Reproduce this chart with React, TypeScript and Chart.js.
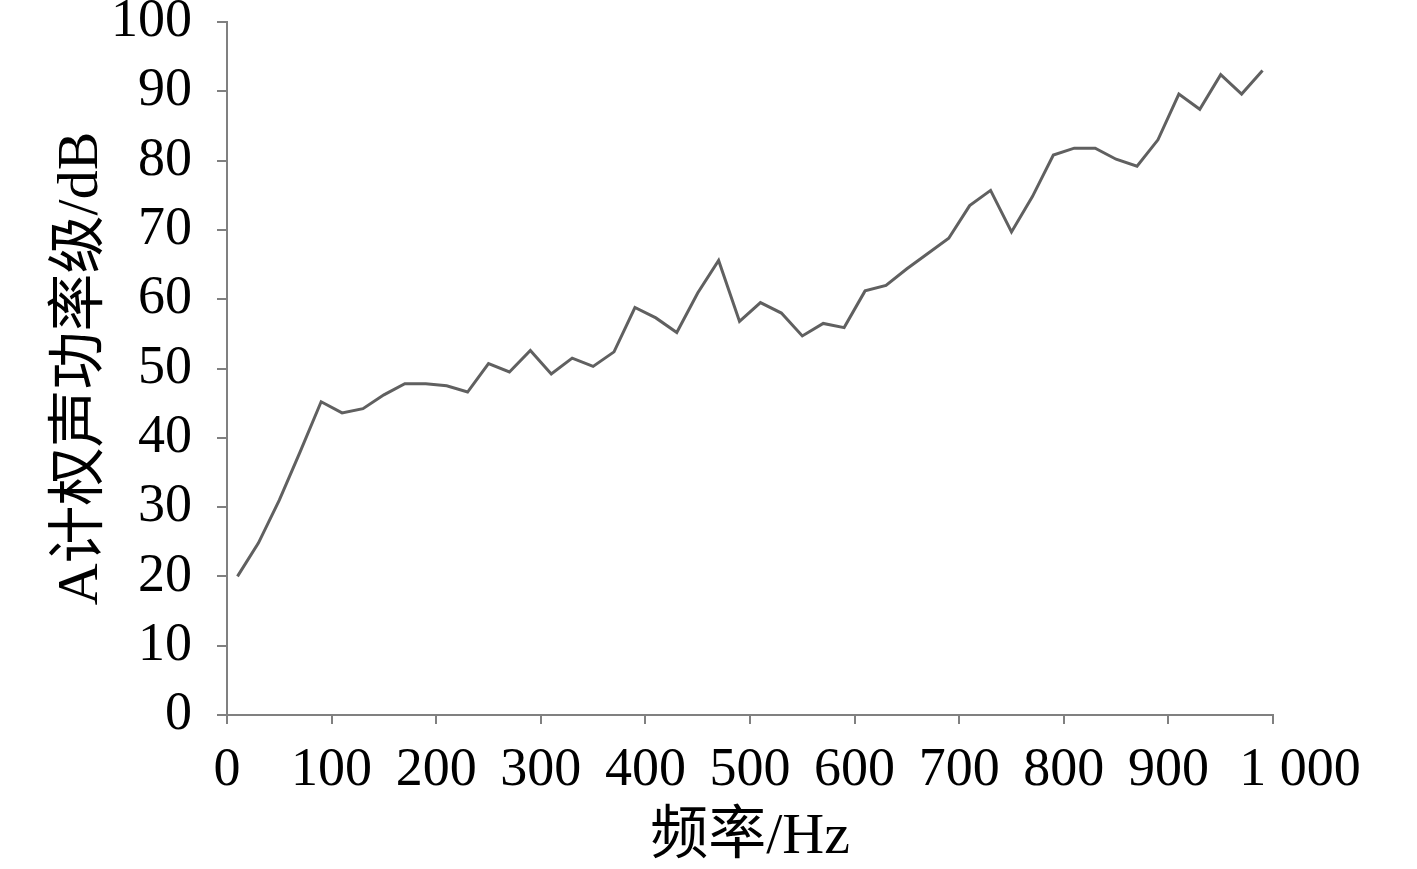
import React, { useEffect, useRef } from "react";
import { Chart, registerables } from "chart.js";

Chart.register(...registerables);

const frequencies = [
  10, 30, 50, 70, 90, 110, 130, 150, 170, 190,
  210, 230, 250, 270, 290, 310, 330, 350, 370, 390,
  410, 430, 450, 470, 490, 510, 530, 550, 570, 590,
  610, 630, 650, 670, 690, 710, 730, 750, 770, 790,
  810, 830, 850, 870, 890, 910, 930, 950, 970, 990,
];

const levels = [
  20.0, 24.8, 31.0, 38.0, 45.2, 43.6, 44.2, 46.2, 47.8, 47.8,
  47.5, 46.6, 50.7, 49.5, 52.6, 49.2, 51.5, 50.3, 52.4, 58.8,
  57.3, 55.2, 60.9, 65.6, 56.8, 59.5, 58.0, 54.7, 56.5, 55.9,
  61.2, 62.0, 64.4, 66.6, 68.8, 73.5, 75.7, 69.7, 74.8, 80.8,
  81.8, 81.8, 80.2, 79.2, 83.0, 89.6, 87.4, 92.4, 89.6, 93.0,
];

const xTitle = "频率/Hz";
const yTitle = "A计权声功率级/dB";

const FONT = "'Liberation Serif', 'Times New Roman', 'Noto Sans CJK SC', serif";

export default function App() {
  const ref = useRef<HTMLCanvasElement | null>(null);

  useEffect(() => {
    if (!ref.current) return;
    const chart = new Chart(ref.current, {
      type: "line",
      data: {
        datasets: [
          {
            data: frequencies.map((f, i) => ({ x: f, y: levels[i] })),
            borderColor: "#606060",
            borderWidth: 3,
            pointRadius: 0,
            tension: 0,
            fill: false,
          },
        ],
      },
      options: {
        animation: false,
        responsive: false,
        maintainAspectRatio: false,
        layout: { padding: { left: 0, right: 144, top: 22, bottom: 0 } },
        plugins: { legend: { display: false }, tooltip: { enabled: false } },
        scales: {
          x: {
            type: "linear",
            min: 0,
            max: 1000,
            afterFit: (s: any) => {
              s.height = 154;
            },
            ticks: {
              stepSize: 100,
              color: "#000",
              padding: 14,
              maxRotation: 0,
              autoSkip: false,
              font: { family: FONT, size: 54 },
              callback: (v: any) => (v === 1000 ? "\u2007\u20071 000" : String(v)),
            },
            grid: {
              drawOnChartArea: false,
              drawTicks: true,
              tickLength: 9,
              color: "#808080",
              lineWidth: 2,
            },
            border: { color: "#808080", width: 2 },
            title: {
              display: true,
              text: xTitle,
              color: "#000",
              font: { family: FONT, size: 58, lineHeight: 1.0 },
              padding: { top: 0, bottom: 2 },
            },
          },
          y: {
            type: "linear",
            min: 0,
            max: 100,
            afterFit: (s: any) => {
              s.width = 227;
              s.paddingTop = 0;
              s.paddingBottom = 0;
            },
            ticks: {
              stepSize: 10,
              color: "#000",
              padding: 25,
              font: { family: FONT, size: 54 },
            },
            grid: {
              drawOnChartArea: false,
              drawTicks: true,
              tickLength: 10,
              color: "#808080",
              lineWidth: 2,
            },
            border: { color: "#808080", width: 2 },
            title: {
              display: true,
              text: yTitle,
              color: "#000",
              font: { family: FONT, size: 58, lineHeight: 1.2 },
              padding: { top: 47, bottom: 0 },
            },
          },
        },
      },
    });
    return () => chart.destroy();
  }, []);

  return (
    <div style={{ position: "absolute", left: 0, top: 0, width: 1417, height: 869, background: "#fff" }}>
      <canvas ref={ref} width={1417} height={869} style={{ width: 1417, height: 869 }} />
    </div>
  );
}
